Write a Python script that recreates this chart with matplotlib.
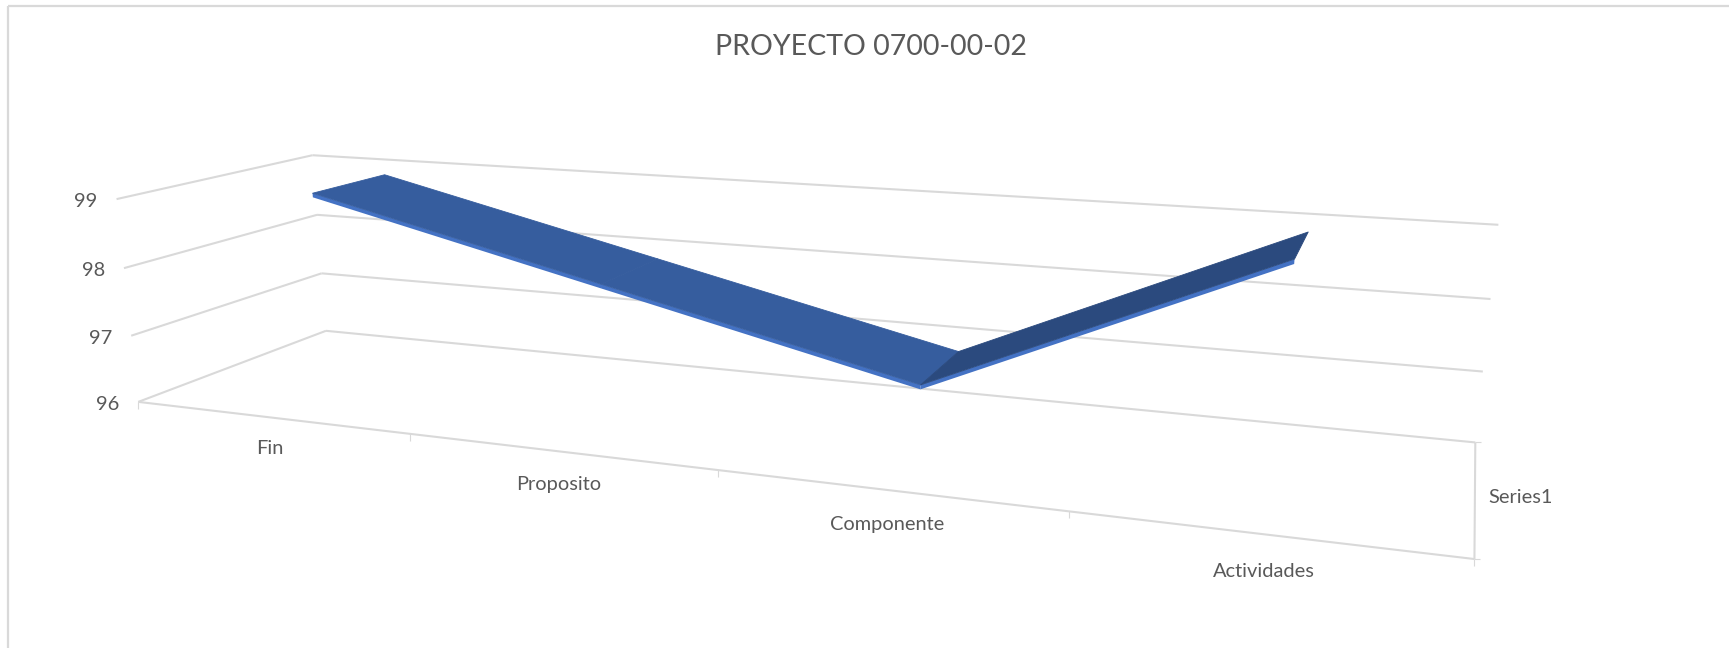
#!/usr/bin/env python3
"""Excel style 3D line chart, PROYECTO 0700-00-02, on a fitted perspective projection."""
import numpy as np
import matplotlib; matplotlib.use("Agg"); import matplotlib.pyplot as plt
from matplotlib.patches import Polygon

plt.rcParams["font.family"] = ["Lato", "DejaVu Sans"]

categories = ["Fin", "Proposito", "Componente", "Actividades"]
values = [99, 98, 97, 99]
value_ticks = [96, 97, 98, 99]
series_name = "Series1"
title = "PROYECTO 0700-00-02"

GRID = "#D9D9D9"; TXT = "#595959"
FACE = "#365D9E"; DARK = "#2B4A7E"; EDGE = "#4472C4"
DEPTH = (0.30, 0.70)   # ribbon band across the depth of the box
THICK = 0.06           # front edge of the ribbon, in value units

# box anchors (category pos, depth, value) -> pixel, used to fit the camera
anchors = [
    (0, 0, 96, 138, 402), (0, 0, 97, 131, 336), (0, 0, 98, 124, 268), (0, 0, 99, 117, 199),
    (0, 1, 96, 326, 331), (0, 1, 97, 322, 273), (0, 1, 98, 317, 215), (0, 1, 99, 312, 155),
    (4, 1, 96, 1475, 442), (4, 1, 97, 1483, 372), (4, 1, 98, 1491, 299), (4, 1, 99, 1498, 225),
    (1, 0, 96, 410, 434), (2, 0, 96, 718, 470), (3, 0, 96, 1068, 511), (4, 0, 96, 1475, 559),
]

def fit_camera(pts):
    rows = []
    for c, d, v, x, y in pts:
        p = [c, d, v - 96, 1]
        rows.append(p + [0, 0, 0, 0] + [-x * a for a in p])
        rows.append([0, 0, 0, 0] + p + [-y * a for a in p])
    return np.linalg.svd(np.array(rows, float))[2][-1].reshape(3, 4)

CAM = fit_camera(anchors)

def proj(c, d, v):
    x, y, w = CAM @ np.array([c, d, v - 96, 1.0])
    return x / w, y / w

fig = plt.figure(figsize=(17.29, 6.48), dpi=100)
ax = fig.add_axes([0, 0, 1, 1]); ax.set_xlim(0, 1729); ax.set_ylim(648, 0); ax.axis("off")

def seg(a, b, **kw):
    ax.plot([a[0], b[0]], [a[1], b[1]], color=GRID, lw=kw.get("lw", 1.5), solid_capstyle="butt", zorder=1)

# chart frame
seg((8, 5.5), (1729, 5.5), lw=1.6); seg((8, 5.5), (8, 648), lw=1.6)

# walls and gridlines
n = len(categories)
for v in value_ticks:
    seg(proj(0, 0, v), proj(0, 1, v)); seg(proj(0, 1, v), proj(n, 1, v))
    x, y = proj(0, 0, v)
    ax.text(x - 19, y + 2.5, str(v), ha="right", va="center", fontsize=14.4, color=TXT)
seg(proj(0, 0, 96), proj(n, 0, 96)); seg(proj(n, 0, 96), proj(n, 1, 96))
for i in range(n + 1):
    x, y = proj(i, 0, 96); seg((x, y), (x, y + 7), lw=0.8)
for d in (0, 1):
    x, y = proj(n, d, 96); seg((x, y), (x + 6, y), lw=0.8)

# category labels sit under the slot centres, further down toward the viewer
for i, lab in enumerate(categories):
    x, y = proj(i + 0.5, 0, 96)
    ax.text(x, y + 31 + 2 * i, lab, ha="center", va="center", fontsize=14.4, color=TXT)
x, y = proj(n, 0.5, 96)
ax.text(x + 13, y + 2, series_name, ha="left", va="center", fontsize=14.4, color=TXT)

# ribbon, one quad per segment; the outline hides the seams
d0, d1 = DEPTH
pos = [i + 0.5 for i in range(n)]
for i in range(n - 1):
    col = FACE if values[i + 1] < values[i] else DARK
    a, b = (pos[i], values[i]), (pos[i + 1], values[i + 1])
    ax.add_patch(Polygon([proj(a[0], d0, a[1]), proj(b[0], d0, b[1]), proj(b[0], d0, b[1] - THICK), proj(a[0], d0, a[1] - THICK)],
                         closed=True, fc=EDGE, ec="none", zorder=3))
    ax.add_patch(Polygon([proj(a[0], d0, a[1]), proj(b[0], d0, b[1]), proj(b[0], d1, b[1]), proj(a[0], d1, a[1])],
                         closed=True, fc=col, ec=col, lw=0.6, joinstyle="round", zorder=4 if col == DARK else 3))

ax.text(871, 47, title, ha="center", va="center", fontsize=20.5, color=TXT)
fig.savefig("out.png", dpi=100)
